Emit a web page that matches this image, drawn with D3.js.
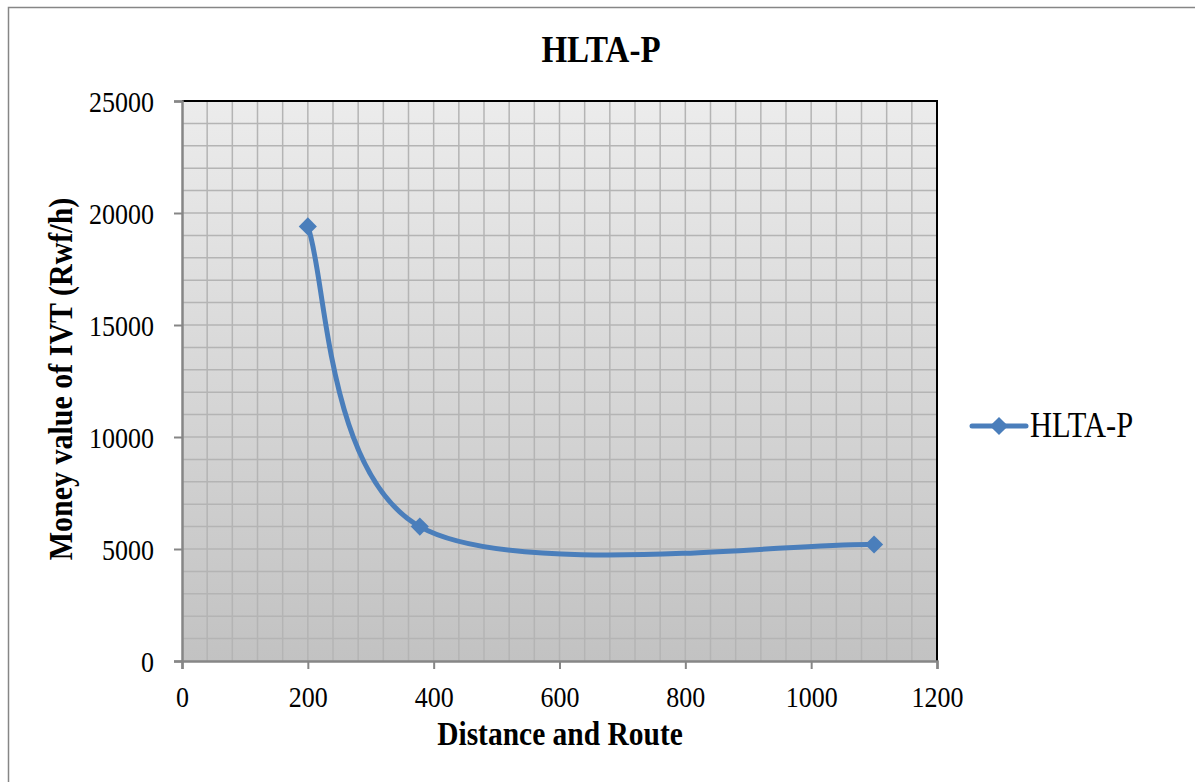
<!DOCTYPE html>
<html>
<head>
<meta charset="utf-8">
<script src="https://cdn.jsdelivr.net/npm/d3@7"></script>
<style>
  body { margin: 0; background: #fff; }
  text { font-family: "Liberation Serif", "Times New Roman", serif; }
</style>
</head>
<body>
<div id="chart"></div>
<script>
const seriesName = "HLTA-P";
const distances = [200, 378, 1100];
const moneyValues = [19400, 6000, 5200];
const xTicks = [0, 200, 400, 600, 800, 1000, 1200];
const yTicks = [0, 5000, 10000, 15000, 20000, 25000];

const W = 1195, H = 782;
const stretch = 1.15; // text in the picture is a bit taller than wide
let margin = {top: 101, left: 182, right: W - 937, bottom: H - 661};
let width = W - margin.left - margin.right;
let height = H - margin.top - margin.bottom;

const svg = d3.select("#chart").append("svg")
    .attr("width", W)
    .attr("height", H);

// outer chart border
svg.append("rect")
    .attr("x", 8.5).attr("y", 7.5)
    .attr("width", W + 10).attr("height", H + 10)
    .attr("fill", "none")
    .attr("stroke", "#868686")
    .attr("stroke-width", 1.5);

const defs = svg.append("defs");
const grad = defs.append("linearGradient").attr("id", "bg")
    .attr("x1", 0).attr("y1", 0).attr("x2", 0).attr("y2", 1);
grad.append("stop").attr("offset", "0%").attr("stop-color", "#ececec");
grad.append("stop").attr("offset", "100%").attr("stop-color", "#c2c2c2");

const g = svg.append("g")
    .attr("transform", "translate(" + margin.left + "," + margin.top + ")");

let x = d3.scaleLinear().domain([0, 1200]).range([0, width]);
let y = d3.scaleLinear().domain([0, 25000]).range([height, 0]);

g.append("rect")
    .attr("width", width).attr("height", height)
    .attr("fill", "url(#bg)");

// gridlines: every 40 on x, every 1000 on y
g.append("g").selectAll("line")
    .data(d3.range(40, 1200, 40))
    .enter().append("line")
    .attr("x1", d => x(d)).attr("x2", d => x(d))
    .attr("y1", 0).attr("y2", height)
    .attr("stroke", "#b4b4b4").attr("stroke-width", 1.5);

g.append("g").selectAll("line")
    .data(d3.range(1000, 25000, 1000))
    .enter().append("line")
    .attr("x1", 0).attr("x2", width)
    .attr("y1", d => y(d)).attr("y2", d => y(d))
    .attr("stroke", "#b4b4b4").attr("stroke-width", 1.5);

// black top and right border
g.append("path")
    .attr("d", `M0,0H${width}V${height}`)
    .attr("fill", "none")
    .attr("stroke", "#000")
    .attr("stroke-width", 2);

// axes
const yAxis = g.append("g")
    .call(d3.axisLeft(y).tickValues(yTicks).tickSize(8).tickPadding(20).tickFormat(d3.format("d")));
const xAxis = g.append("g")
    .attr("transform", "translate(0," + height + ")")
    .call(d3.axisBottom(x).tickValues(xTicks).tickSize(8).tickPadding(12).tickFormat(d3.format("d")));

[yAxis, xAxis].forEach(ax => {
    ax.select(".domain").attr("stroke", "#868686").attr("stroke-width", 2.5);
    ax.selectAll(".tick line").attr("stroke", "#868686").attr("stroke-width", 2);
    ax.selectAll(".tick text")
        .style("font-family", "'Liberation Serif', serif")
        .style("font-size", "26px")
        .attr("fill", "#000")
        .attr("transform", `scale(1,${stretch})`);
});
yAxis.selectAll(".tick text").attr("dy", "0.34em");
xAxis.selectAll(".tick text").attr("dy", 0).attr("y", 46 / stretch);

// Excel-like smoothed line: cubic bezier, control points at 1/6 of the
// neighbour chord, capped at half the segment length
function smoothPath(pts) {
    const p = d3.path();
    const dist = (a, b) => Math.hypot(b[0] - a[0], b[1] - a[1]);
    p.moveTo(pts[0][0], pts[0][1]);
    for (let i = 0; i < pts.length - 1; i++) {
        const p0 = pts[Math.max(i - 1, 0)], p1 = pts[i], p2 = pts[i + 1];
        const p3 = pts[Math.min(i + 2, pts.length - 1)];
        const seg = dist(p1, p2);
        let f1 = 1 / 6, f2 = 1 / 6;
        const d02 = dist(p0, p2), d13 = dist(p1, p3);
        if (d02 * f1 > seg / 2) f1 = seg / (2 * d02);
        if (d13 * f2 > seg / 2) f2 = seg / (2 * d13);
        p.bezierCurveTo(
            p1[0] + (p2[0] - p0[0]) * f1, p1[1] + (p2[1] - p0[1]) * f1,
            p2[0] - (p3[0] - p1[0]) * f2, p2[1] - (p3[1] - p1[1]) * f2,
            p2[0], p2[1]);
    }
    return p.toString();
}

// series
const points = distances.map((d, i) => ({x: d, y: moneyValues[i]}));
const pixelPts = points.map(d => [x(d.x), y(d.y)]);

g.append("path")
    .attr("d", smoothPath(pixelPts))
    .attr("fill", "none")
    .attr("stroke", "#4a7ebb")
    .attr("stroke-width", 5)
    .attr("stroke-linecap", "round");

const diamond = d3.symbol().type(d3.symbolDiamond2).size(210);
g.selectAll(".marker")
    .data(points)
    .enter().append("path")
    .attr("class", "marker")
    .attr("transform", d => `translate(${x(d.x)},${y(d.y)})`)
    .attr("d", diamond)
    .attr("fill", "#4a7ebb");

// title
svg.append("text")
    .attr("transform", `translate(601,62) scale(1,${stretch})`)
    .attr("text-anchor", "middle")
    .style("font-size", "33px")
    .style("font-weight", "bold")
    .text(seriesName);

// axis titles
svg.append("text")
    .attr("transform", `translate(560,745) scale(1,${stretch})`)
    .attr("text-anchor", "middle")
    .style("font-size", "29.5px")
    .style("font-weight", "bold")
    .text("Distance and Route");

svg.append("text")
    .attr("transform", `translate(72,379) rotate(-90) scale(1,${stretch})`)
    .attr("text-anchor", "middle")
    .style("font-size", "30px")
    .style("font-weight", "bold")
    .text("Money value of IVT (Rwf/h)");

// legend
const legend = svg.append("g").attr("transform", "translate(972,426)");
legend.append("line")
    .attr("x1", 0).attr("x2", 54)
    .attr("stroke", "#4a7ebb").attr("stroke-width", 5)
    .attr("stroke-linecap", "round");
legend.append("path")
    .attr("transform", "translate(27,0)")
    .attr("d", diamond)
    .attr("fill", "#4a7ebb");
legend.append("text")
    .attr("transform", `translate(58,11) scale(1,${stretch})`)
    .style("font-size", "30.5px")
    .text(seriesName);
</script>
</body>
</html>
